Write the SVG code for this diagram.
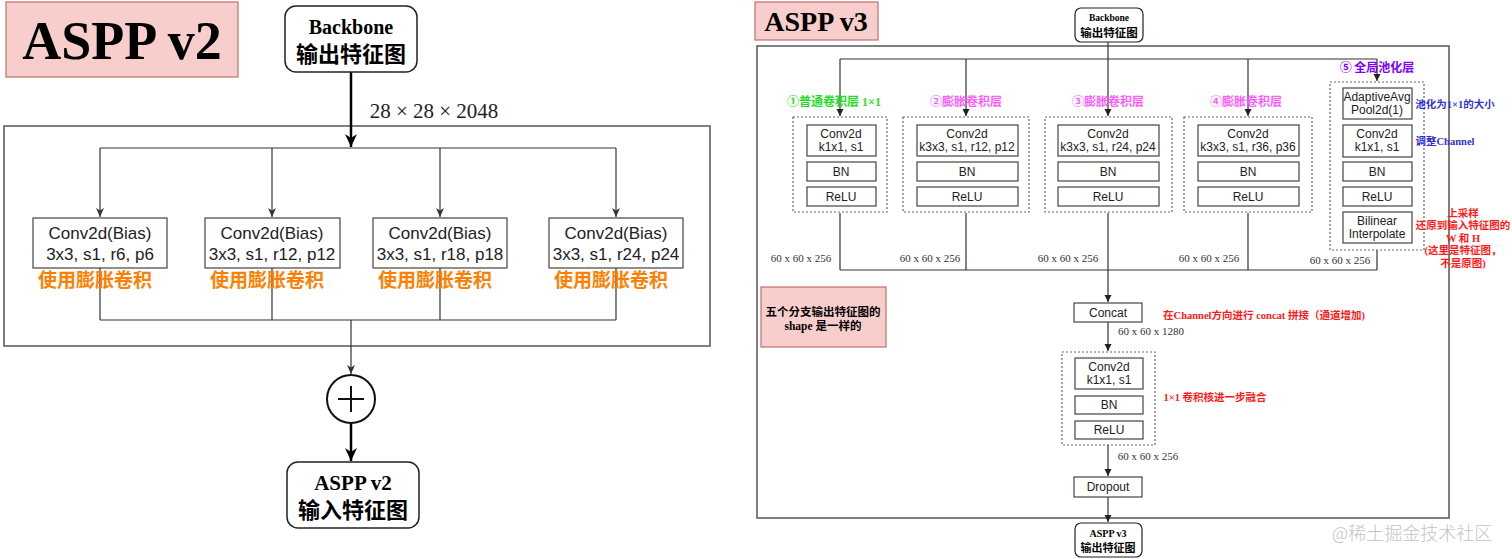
<svg xmlns="http://www.w3.org/2000/svg" width="1512" height="559" viewBox="0 0 1512 559">
<defs>
<style>
.bg{fill:#fff}
.title{fill:#f8cecc;stroke:#c0706c;stroke-width:1.2}
.frame{fill:none;stroke:#555;stroke-width:1.5}
.box{fill:#fff;stroke:#444;stroke-width:1.2}
.rbox{fill:#fff;stroke:#222;stroke-width:1.5}
.dash{fill:none;stroke:#666;stroke-width:1.2;stroke-dasharray:2 2}
.ln{fill:none;stroke:#333;stroke-width:1.2}
.thick{fill:none;stroke:#000;stroke-width:2.5}
.sans{font-family:"Liberation Sans",Arial,sans-serif;fill:#222;text-anchor:middle}
.serif{font-family:"Liberation Serif","Noto Sans CJK SC",serif;text-anchor:middle}
.cjk{font-family:"Noto Sans CJK SC","Liberation Sans",sans-serif;font-weight:bold;text-anchor:middle}
.mix{font-family:"Liberation Serif","Noto Sans CJK SC",serif;font-weight:bold;text-anchor:middle}
.dim{font-family:"Liberation Serif",serif;fill:#333;text-anchor:middle;font-size:11px}
</style>
<marker id="aThick" markerUnits="userSpaceOnUse" markerWidth="14" markerHeight="14" refX="13" refY="7" orient="auto"><path d="M0,1 L13,7 L0,13 L4,7 z" fill="#000"/></marker>
<marker id="aSmall" markerUnits="userSpaceOnUse" markerWidth="10" markerHeight="10" refX="9" refY="5" orient="auto"><path d="M0,1 L9,5 L0,9 L2.5,5 z" fill="#333"/></marker>
<marker id="aTiny" markerUnits="userSpaceOnUse" markerWidth="8" markerHeight="8" refX="7" refY="4" orient="auto"><path d="M0,0.5 L7,4 L0,7.5 z" fill="#222"/></marker>
</defs>
<rect class="bg" x="0" y="0" width="1512" height="559"/>

<!-- ============ LEFT: ASPP v2 ============ -->
<g id="v2-title"><rect class="title" x="6" y="2" width="232" height="75"/><text class="serif" x="122" y="59" font-size="54" font-weight="bold" fill="#000">ASPP v2</text></g>
<rect id="v2-frame" class="frame" x="4" y="126" width="706" height="220"/>

<g id="v2-connectors">
<path class="thick" d="M351,72 V147" marker-end="url(#aThick)"/>
<path class="ln" d="M100,148 H616"/>
<path class="ln" d="M100,148 V217" marker-end="url(#aSmall)"/>
<path class="ln" d="M272,148 V217" marker-end="url(#aSmall)"/>
<path class="ln" d="M440,148 V217" marker-end="url(#aSmall)"/>
<path class="ln" d="M616,148 V217" marker-end="url(#aSmall)"/>
<path class="ln" d="M100,268 V320 M272,268 V320 M440,268 V320 M616,268 V320 M100,320 H616"/>
<path class="ln" d="M351,320 V374" marker-end="url(#aSmall)"/>
<path class="thick" d="M351,423 V461" marker-end="url(#aThick)"/>
</g>

<g id="v2-backbone"><rect class="rbox" x="285" y="6" width="132" height="66" rx="11"/><text class="serif" x="351" y="34" font-size="20" font-weight="bold" fill="#000">Backbone</text><text class="cjk" x="351" y="62" font-size="22" fill="#000">输出特征图</text></g>
<text id="v2-dim" class="serif" x="434" y="118" font-size="21" fill="#222">28 × 28 × 2048</text>

<g id="v2-b1"><rect class="box" x="33" y="218" width="134" height="50"/><text class="sans" x="100" y="239" font-size="17">Conv2d(Bias)</text><text class="sans" x="100" y="260" font-size="17">3x3, s1, r6, p6</text><text class="cjk" x="95" y="287" font-size="19" fill="#ff8000">使用膨胀卷积</text></g>
<g id="v2-b2"><rect class="box" x="205" y="218" width="135" height="50"/><text class="sans" x="272" y="239" font-size="17">Conv2d(Bias)</text><text class="sans" x="272" y="260" font-size="17">3x3, s1, r12, p12</text><text class="cjk" x="267" y="287" font-size="19" fill="#ff8000">使用膨胀卷积</text></g>
<g id="v2-b3"><rect class="box" x="373" y="218" width="134" height="50"/><text class="sans" x="440" y="239" font-size="17">Conv2d(Bias)</text><text class="sans" x="440" y="260" font-size="17">3x3, s1, r18, p18</text><text class="cjk" x="435" y="287" font-size="19" fill="#ff8000">使用膨胀卷积</text></g>
<g id="v2-b4"><rect class="box" x="549" y="218" width="134" height="50"/><text class="sans" x="616" y="239" font-size="17">Conv2d(Bias)</text><text class="sans" x="616" y="260" font-size="17">3x3, s1, r24, p24</text><text class="cjk" x="611" y="287" font-size="19" fill="#ff8000">使用膨胀卷积</text></g>
<g id="v2-sum"><ellipse cx="351" cy="399" rx="24" ry="24" fill="#fff" stroke="#111" stroke-width="2"/><path d="M338,399 H364 M351,386 V412" stroke="#111" stroke-width="2"/></g>
<g id="v2-out"><rect class="rbox" x="287" y="462" width="132" height="66" rx="11"/><text class="serif" x="353" y="490" font-size="21" font-weight="bold" fill="#000">ASPP v2</text><text class="cjk" x="353" y="518" font-size="22" fill="#000">输入特征图</text></g>

<!-- ============ RIGHT: ASPP v3 ============ -->
<g id="v3-title"><rect class="title" x="755" y="2" width="123" height="38"/><text class="serif" x="816" y="31" font-size="28" font-weight="bold" fill="#000">ASPP v3</text></g>
<rect id="v3-frame" class="frame" x="757" y="46" width="692" height="472"/>

<g id="v3-connectors">
<path class="ln" d="M1108,42 V116" marker-end="url(#aTiny)"/>
<path class="ln" d="M840,59 H1377"/>
<path class="ln" d="M840,59 V116" marker-end="url(#aTiny)"/>
<path class="ln" d="M966,59 V116" marker-end="url(#aTiny)"/>
<path class="ln" d="M1248,59 V116" marker-end="url(#aTiny)"/>
<path class="ln" d="M1377,59 V81" marker-end="url(#aTiny)"/>
<path class="ln" d="M840,213 V270 M966,213 V270 M1248,213 V270 M1377,250 V270 M840,270 H1377"/>
<path class="ln" d="M1108,213 V302" marker-end="url(#aTiny)"/>
<path class="ln" d="M1108,322 V351" marker-end="url(#aTiny)"/>
<path class="ln" d="M1108,445 V476" marker-end="url(#aTiny)"/>
<path class="ln" d="M1108,497 V522" marker-end="url(#aTiny)"/>
</g>

<g id="v3-backbone"><rect class="rbox" x="1075" y="8" width="68" height="34" rx="6" style="stroke-width:1.2"/><text class="serif" x="1109" y="21" font-size="9.5" font-weight="bold" fill="#000">Backbone</text><text class="cjk" x="1109" y="37" font-size="11.5" fill="#000">输出特征图</text></g>

<g id="v3-b1">
<text class="mix" x="834" y="106" font-size="12" fill="#22dd22">①普通卷积层 1×1</text>
<rect class="dash" x="793" y="117" width="94" height="95"/>
<rect class="box" x="807" y="125" width="69" height="31"/><text class="sans" x="841" y="138" font-size="12">Conv2d</text><text class="sans" x="841" y="151" font-size="12">k1x1, s1</text>
<rect class="box" x="807" y="162" width="69" height="19"/><text class="sans" x="841" y="176" font-size="12">BN</text>
<rect class="box" x="807" y="187" width="69" height="19"/><text class="sans" x="841" y="201" font-size="12">ReLU</text>
<text class="dim" x="801" y="262">60 x 60 x 256</text>
</g>
<g id="v3-b2">
<text class="cjk" x="966" y="106" font-size="12" fill="#ff5cff">②膨胀卷积层</text>
<rect class="dash" x="903" y="117" width="126" height="95"/>
<rect class="box" x="917" y="125" width="101" height="31"/><text class="sans" x="967" y="138" font-size="12">Conv2d</text><text class="sans" x="967" y="151" font-size="12">k3x3, s1, r12, p12</text>
<rect class="box" x="917" y="162" width="101" height="19"/><text class="sans" x="967" y="176" font-size="12">BN</text>
<rect class="box" x="917" y="187" width="101" height="19"/><text class="sans" x="967" y="201" font-size="12">ReLU</text>
<text class="dim" x="930" y="262">60 x 60 x 256</text>
</g>
<g id="v3-b3">
<text class="cjk" x="1108" y="106" font-size="12" fill="#ff5cff">③膨胀卷积层</text>
<rect class="dash" x="1045" y="117" width="127" height="95"/>
<rect class="box" x="1058" y="125" width="101" height="31"/><text class="sans" x="1108" y="138" font-size="12">Conv2d</text><text class="sans" x="1108" y="151" font-size="12">k3x3, s1, r24, p24</text>
<rect class="box" x="1058" y="162" width="101" height="19"/><text class="sans" x="1108" y="176" font-size="12">BN</text>
<rect class="box" x="1058" y="187" width="101" height="19"/><text class="sans" x="1108" y="201" font-size="12">ReLU</text>
<text class="dim" x="1068" y="262">60 x 60 x 256</text>
</g>
<g id="v3-b4">
<text class="cjk" x="1246" y="106" font-size="12" fill="#ff5cff">④膨胀卷积层</text>
<rect class="dash" x="1184" y="117" width="128" height="95"/>
<rect class="box" x="1198" y="125" width="101" height="31"/><text class="sans" x="1248" y="138" font-size="12">Conv2d</text><text class="sans" x="1248" y="151" font-size="12">k3x3, s1, r36, p36</text>
<rect class="box" x="1198" y="162" width="101" height="19"/><text class="sans" x="1248" y="176" font-size="12">BN</text>
<rect class="box" x="1198" y="187" width="101" height="19"/><text class="sans" x="1248" y="201" font-size="12">ReLU</text>
<text class="dim" x="1209" y="262">60 x 60 x 256</text>
</g>
<g id="v3-b5">
<text class="cjk" x="1377" y="72" font-size="12" fill="#8000ff">⑤ 全局池化层</text>
<rect class="dash" x="1330" y="82" width="94" height="168"/>
<rect class="box" x="1343" y="88" width="69" height="31"/><text class="sans" x="1377" y="101" font-size="12">AdaptiveAvg</text><text class="sans" x="1377" y="114" font-size="12">Pool2d(1)</text>
<rect class="box" x="1343" y="125" width="69" height="32"/><text class="sans" x="1377" y="138" font-size="12">Conv2d</text><text class="sans" x="1377" y="151" font-size="12">k1x1, s1</text>
<rect class="box" x="1343" y="162" width="69" height="19"/><text class="sans" x="1377" y="176" font-size="12">BN</text>
<rect class="box" x="1343" y="187" width="69" height="19"/><text class="sans" x="1377" y="201" font-size="12">ReLU</text>
<rect class="box" x="1343" y="212" width="69" height="31"/><text class="sans" x="1377" y="225" font-size="12">Bilinear</text><text class="sans" x="1377" y="238" font-size="12">Interpolate</text>
<text class="dim" x="1340" y="264">60 x 60 x 256</text>
</g>

<g id="v3-notes">
<text class="mix" x="1455" y="108" font-size="10.5" fill="#3333cc">池化为1×1的大小</text>
<text class="mix" x="1445" y="145" font-size="10.5" fill="#3333cc">调整Channel</text>
<g class="mix" font-size="10.5" fill="#ff1a1a">
<text x="1463" y="217">上采样</text>
<text x="1463" y="229">还原到输入特征图的</text>
<text x="1463" y="242">W 和 H</text>
<text x="1463" y="254">(这里是特征图，</text>
<text x="1463" y="267">不是原图)</text>
</g>
</g>

<g id="v3-shape-note"><rect class="title" x="761" y="287" width="125" height="60"/><text class="mix" x="823" y="316" font-size="11.5" fill="#000">五个分支输出特征图的</text><text class="mix" x="823" y="330" font-size="11.5" fill="#000">shape 是一样的</text></g>

<g id="v3-concat"><rect class="box" x="1074" y="303" width="68" height="19"/><text class="sans" x="1108" y="317" font-size="12">Concat</text>
<text class="mix" x="1264" y="319" font-size="10.5" fill="#ff1a1a">在Channel方向进行 concat 拼接（通道增加)</text>
<text class="dim" x="1151" y="335">60 x 60 x 1280</text></g>

<g id="v3-fuse">
<rect class="dash" x="1062" y="352" width="93" height="93"/>
<rect class="box" x="1075" y="358" width="68" height="31"/><text class="sans" x="1109" y="371" font-size="12">Conv2d</text><text class="sans" x="1109" y="384" font-size="12">k1x1, s1</text>
<rect class="box" x="1075" y="396" width="68" height="18"/><text class="sans" x="1109" y="409" font-size="12">BN</text>
<rect class="box" x="1075" y="421" width="68" height="18"/><text class="sans" x="1109" y="434" font-size="12">ReLU</text>
<text class="mix" x="1215" y="401" font-size="10.5" fill="#ff1a1a">1×1 卷积核进一步融合</text>
<text class="dim" x="1148" y="460">60 x 60 x 256</text>
</g>

<g id="v3-dropout"><rect class="box" x="1074" y="477" width="68" height="20"/><text class="sans" x="1108" y="491" font-size="12">Dropout</text></g>
<g id="v3-out"><rect class="rbox" x="1075" y="523" width="67" height="34" rx="6" style="stroke-width:1.2"/><text class="serif" x="1108" y="537" font-size="10" font-weight="bold" fill="#000">ASPP v3</text><text class="cjk" x="1108" y="552" font-size="11" fill="#000">输出特征图</text></g>

<text id="watermark" x="1412" y="540" font-family="Noto Sans CJK SC,sans-serif" font-size="18" font-weight="300" fill="#c4c4c4" text-anchor="middle">@稀土掘金技术社区</text>
</svg>
